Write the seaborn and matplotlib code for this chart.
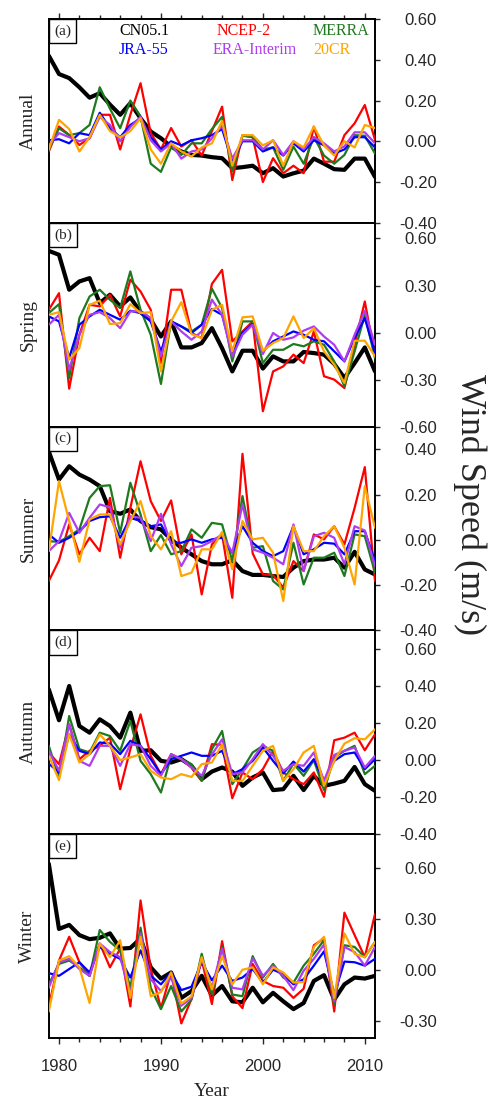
import matplotlib
matplotlib.use("Agg")
import matplotlib.pyplot as plt
import seaborn as sns
import numpy as np
from matplotlib.offsetbox import AnchoredText
from matplotlib.ticker import MultipleLocator

# ---------------- data ----------------
years = list(range(1979, 2012))
datasets = ["CN05.1", "NCEP-2", "MERRA", "JRA-55", "ERA-Interim", "20CR"]
seasons = ["Annual", "Spring", "Summer", "Autumn", "Winter"]
panel_tags = ["(a)", "(b)", "(c)", "(d)", "(e)"]

annual_cn05 = [0.42,0.33,0.31,0.265,0.214,0.236,0.18,0.13,0.187,0.113,0.048,0.015,-0.026,-0.05,-0.067,-0.07,-0.078,-0.083,-0.132,-0.127,-0.12,-0.157,-0.132,-0.173,-0.157,-0.144,-0.085,-0.11,-0.137,-0.14,-0.085,-0.085,-0.175]
annual_ncep = [-0.05,0.072,0.031,-0.018,0.015,0.13,0.13,-0.04,0.13,0.285,0.04,-0.04,0.065,-0.026,0.006,-0.07,0.05,0.17,-0.19,0.03,0.02,-0.2,-0.083,-0.157,-0.12,-0.157,0.072,-0.1,-0.1,0.03,0.088,0.178,0.007]
annual_merra = [-0.04,0.064,0.03,0.04,0.08,0.265,0.16,0.064,0.2,0.12,-0.11,-0.15,-0.03,-0.067,-0.01,-0.01,0.06,0.12,-0.148,0.027,0.02,-0.04,-0.03,-0.14,-0.026,-0.11,0.02,-0.07,-0.11,-0.067,0.03,0.027,-0.06]
annual_jra = [0.005,0.01,-0.01,0.04,0.03,0.14,0.064,0.02,0.08,0.113,0.02,-0.04,0.0,-0.02,0.005,0.015,0.03,0.06,-0.1,0.0,0.0,-0.05,-0.03,-0.07,-0.01,-0.05,0.005,-0.02,-0.06,-0.04,0.02,0.02,-0.03]
annual_era = [-0.02,0.04,0.02,0.0,0.015,0.12,0.08,0.0,0.07,0.12,0.005,-0.05,-0.01,-0.085,-0.05,-0.04,0.015,0.077,-0.085,0.005,0.005,-0.04,0.005,-0.067,0.0,-0.04,0.02,-0.01,-0.05,-0.025,0.044,0.044,-0.01]
annual_20cr = [-0.04,0.105,0.06,-0.05,0.02,0.13,0.05,0.02,0.05,0.113,-0.04,-0.11,-0.01,-0.05,-0.075,-0.03,-0.01,0.1,-0.12,0.03,0.03,-0.02,0.005,-0.12,0.0,-0.03,0.072,-0.02,-0.07,0.0,-0.03,0.08,0.065]

spring_cn05 = [0.521,0.496,0.273,0.326,0.347,0.188,0.241,0.167,0.224,0.13,0.082,-0.025,0.071,-0.095,-0.095,-0.067,0.028,-0.1,-0.248,-0.116,-0.116,-0.23,-0.152,-0.184,-0.184,-0.124,-0.131,-0.141,-0.2,-0.29,-0.195,-0.095,-0.248]
spring_ncep = [0.145,0.251,-0.358,-0.014,0.177,0.167,0.241,0.103,0.337,0.262,0.145,-0.194,0.273,0.273,-0.003,-0.035,0.31,0.4,-0.056,0.007,0.071,-0.502,-0.248,-0.216,-0.141,-0.195,0.007,-0.279,-0.3,-0.354,-0.078,0.198,-0.152]
spring_merra = [0.124,0.181,-0.29,0.092,0.23,0.273,0.209,0.156,0.39,0.145,-0.014,-0.328,0.071,0.039,0.007,0.05,0.28,0.156,-0.184,0.071,0.071,-0.195,-0.11,-0.11,-0.073,-0.088,-0.056,-0.078,-0.184,-0.343,-0.12,0.113,-0.163]
spring_jra = [0.103,0.071,-0.162,0.05,0.103,0.145,0.113,0.082,0.139,0.124,0.071,-0.12,0.071,0.039,-0.003,0.05,0.15,0.113,-0.131,-0.003,0.054,-0.12,-0.056,-0.025,0.007,-0.014,-0.046,-0.056,-0.12,-0.184,-0.035,0.092,-0.131]
spring_era = [0.05,0.113,-0.237,-0.014,0.113,0.13,0.092,0.028,0.135,0.135,0.092,-0.152,0.071,0.007,-0.046,0.007,0.21,0.113,-0.152,-0.014,0.05,-0.137,-0.003,-0.046,-0.031,0.012,0.039,-0.025,-0.078,-0.184,-0.014,0.139,-0.078]
spring_20cr = [0.113,0.13,-0.173,-0.099,0.177,0.203,0.054,0.06,0.181,0.124,0.13,-0.248,0.071,0.194,-0.01,-0.035,0.145,0.177,-0.12,0.097,0.103,-0.116,-0.067,-0.035,0.103,-0.035,0.028,-0.12,-0.205,-0.322,-0.052,-0.052,-0.152]

summer_cn05 = [0.39,0.266,0.325,0.288,0.266,0.237,0.127,0.115,0.134,0.083,0.056,0.046,0.002,-0.035,-0.064,-0.094,-0.108,-0.108,-0.09,-0.138,-0.155,-0.155,-0.16,-0.164,-0.123,-0.094,-0.087,-0.087,-0.079,-0.123,-0.053,-0.131,-0.153]
summer_ncep = [-0.182,-0.091,0.068,-0.064,0.009,-0.05,0.185,-0.079,0.141,0.347,0.171,0.083,0.174,-0.064,0.024,-0.241,-0.02,0.024,-0.256,0.38,-0.06,-0.153,-0.156,-0.21,-0.094,-0.138,0.024,0.002,0.06,-0.02,0.141,0.321,-0.182]
summer_merra = [-0.006,-0.009,0.016,0.046,0.185,0.237,0.241,0.031,0.252,0.112,-0.05,0.021,-0.064,-0.05,0.046,0.009,0.075,0.068,-0.094,0.193,-0.035,-0.028,-0.182,-0.219,-0.013,-0.197,-0.079,-0.079,-0.057,-0.16,0.024,0.016,-0.145]
summer_jra = [0.024,-0.013,0.009,0.038,0.083,0.1,0.104,0.009,0.097,0.083,0.06,0.068,-0.013,-0.013,0.002,-0.013,0.002,0.009,-0.057,0.06,-0.013,-0.05,-0.072,-0.05,0.06,-0.064,-0.042,-0.013,-0.017,-0.064,0.038,0.038,-0.094]
summer_era = [-0.05,-0.006,0.119,0.031,0.097,0.156,0.144,-0.035,0.104,0.097,-0.006,0.115,-0.02,-0.116,-0.035,-0.028,-0.006,0.024,-0.057,0.156,-0.042,-0.057,-0.079,-0.108,0.068,-0.138,0.016,0.031,0.009,-0.108,0.06,0.041,-0.116]
summer_20cr = [-0.05,0.259,0.083,-0.097,0.09,0.112,0.112,-0.02,0.083,0.171,0.016,-0.042,0.038,-0.16,-0.145,-0.042,-0.042,0.035,-0.13,0.083,0.002,0.009,-0.057,-0.27,0.06,-0.05,-0.05,0.016,0.06,-0.035,-0.197,0.237,0.053]

autumn_cn05 = [0.382,0.215,0.4,0.184,0.148,0.22,0.184,0.121,0.256,0.05,0.053,-0.004,-0.013,0.005,-0.031,-0.103,-0.062,-0.04,-0.062,-0.139,-0.094,-0.067,-0.162,-0.157,-0.085,-0.162,-0.085,-0.139,-0.127,-0.112,-0.037,-0.13,-0.166]
autumn_ncep = [0.041,-0.022,0.193,0.005,0.05,0.077,0.121,-0.157,0.059,0.247,0.023,-0.076,0.032,0.005,-0.04,-0.112,0.086,0.082,-0.206,-0.067,-0.103,-0.049,0.05,-0.067,-0.103,-0.13,-0.067,-0.198,0.107,0.121,0.148,0.053,0.139]
autumn_merra = [0.077,-0.094,0.238,0.059,0.041,0.148,0.13,0.05,0.211,-0.004,-0.076,-0.175,0.023,0.005,-0.022,-0.112,0.059,0.157,-0.13,-0.049,0.041,0.077,0.05,-0.112,-0.019,-0.085,0.0,-0.162,0.014,0.05,0.077,-0.076,-0.031]
autumn_jra = [-0.019,-0.067,0.139,0.05,0.032,0.095,0.089,0.032,0.104,0.077,0.005,-0.076,0.005,0.023,0.041,0.023,0.023,0.05,-0.076,-0.049,-0.004,0.068,-0.004,-0.072,-0.008,-0.062,0.005,-0.112,-0.004,0.032,0.041,-0.049,0.005]
autumn_era = [0.05,-0.058,0.193,-0.004,-0.031,0.077,0.077,-0.031,0.086,0.077,-0.031,-0.085,0.032,0.005,-0.04,-0.085,0.03,0.112,-0.076,-0.067,0.005,0.086,0.023,-0.058,-0.022,-0.031,0.041,-0.112,0.028,0.05,0.068,-0.04,0.023]
autumn_20cr = [0.023,-0.108,0.139,-0.013,0.032,0.139,0.077,0.0,0.014,0.032,-0.058,-0.094,-0.103,-0.076,-0.091,-0.022,-0.013,0.086,-0.112,-0.112,-0.031,0.05,0.077,-0.112,-0.049,0.041,0.077,-0.139,-0.004,0.089,0.118,0.112,0.166]

winter_cn05 = [0.626,0.242,0.266,0.206,0.182,0.19,0.216,0.126,0.13,0.186,0.016,-0.05,-0.014,-0.164,-0.124,-0.034,-0.15,-0.094,-0.184,-0.19,-0.104,-0.19,-0.134,-0.184,-0.23,-0.194,-0.064,-0.03,-0.174,-0.084,-0.044,-0.05,-0.034]
winter_ncep = [-0.214,0.056,0.196,0.046,-0.034,0.156,0.016,0.126,-0.214,0.41,0.006,-0.224,-0.014,-0.314,-0.17,0.06,-0.2,0.17,-0.154,-0.224,0.036,-0.064,-0.094,-0.104,-0.164,-0.11,0.146,0.186,-0.244,0.338,0.206,0.076,0.33]
winter_merra = [-0.084,0.036,0.056,0.016,-0.034,0.236,0.166,0.116,-0.104,0.25,-0.104,-0.23,-0.094,-0.244,-0.174,0.096,-0.144,0.136,-0.144,-0.154,0.082,-0.044,0.036,-0.044,-0.074,0.026,0.096,0.176,-0.204,0.146,0.136,0.076,0.166]
winter_jra = [-0.018,-0.034,0.006,0.046,-0.014,0.136,0.096,0.066,-0.044,0.116,-0.034,-0.084,-0.014,-0.118,-0.098,0.046,-0.06,0.026,-0.064,-0.044,0.006,-0.074,0.002,-0.024,-0.084,-0.054,0.026,0.11,-0.144,0.05,0.046,0.026,0.066]
winter_era = [-0.104,0.046,0.066,0.006,-0.034,0.156,0.106,0.076,-0.144,0.216,-0.054,-0.124,-0.044,-0.21,-0.164,0.066,-0.104,0.126,-0.104,-0.114,0.07,-0.034,0.026,-0.034,-0.118,-0.004,0.066,0.15,-0.184,0.136,0.106,0.026,0.136]
winter_20cr = [-0.244,0.056,0.082,0.016,-0.194,0.156,0.076,0.176,-0.164,0.196,-0.154,-0.13,-0.014,-0.198,-0.154,0.076,-0.114,0.082,-0.084,0.002,0.016,-0.084,0.016,-0.014,-0.074,-0.07,0.136,0.196,-0.164,0.216,0.096,0.076,0.166]

panels = [
    [annual_cn05, annual_ncep, annual_merra, annual_jra, annual_era, annual_20cr],
    [spring_cn05, spring_ncep, spring_merra, spring_jra, spring_era, spring_20cr],
    [summer_cn05, summer_ncep, summer_merra, summer_jra, summer_era, summer_20cr],
    [autumn_cn05, autumn_ncep, autumn_merra, autumn_jra, autumn_era, autumn_20cr],
    [winter_cn05, winter_ncep, winter_merra, winter_jra, winter_era, winter_20cr],
]

# ---------------- style ----------------
colors = ["black", "#ff0000", "#1e7a1e", "#0000ff", "#b03cf0", "#ffa500"]
widths = [3.0, 1.6, 1.6, 1.6, 1.6, 1.6]
ylims = [(-0.4, 0.6), (-0.6, 0.7), (-0.4, 0.5), (-0.4, 0.7), (-0.4, 0.8)]
ytick_sets = [
    [-0.4, -0.2, 0.0, 0.2, 0.4, 0.6],
    [-0.6, -0.3, 0.0, 0.3, 0.6],
    [-0.4, -0.2, 0.0, 0.2, 0.4],
    [-0.4, -0.2, 0.0, 0.2, 0.4, 0.6],
    [-0.3, 0.0, 0.3, 0.6],
]

sns.set_style("ticks")
SERIF = ["Liberation Serif", "DejaVu Serif"]
SANS = ["Liberation Sans", "DejaVu Sans"]
plt.rcParams["font.family"] = SANS

W, H = 491, 1102
fig = plt.figure(figsize=(W / 100, H / 100), dpi=100)

left_px, right_px = 48.8, 375.0
top_px, bot_px = 19.0, 1038.0
ph = (bot_px - top_px) / 5

for i in range(5):
    y_top = top_px + i * ph
    ax = fig.add_axes([left_px / W, 1 - (y_top + ph) / H,
                       (right_px - left_px) / W, ph / H])
    for vals, c, lw in zip(panels[i], colors, widths):
        sns.lineplot(x=years, y=vals, ax=ax, color=c, linewidth=lw,
                     legend=False, zorder=3)
    ax.set_xlim(1979, 2011)
    ax.set_ylim(*ylims[i])
    ax.set_xlabel("")
    ax.set_ylabel("")
    for sp in ax.spines.values():
        sp.set_visible(True)
        sp.set_linewidth(1.4)
        sp.set_color("black")

    # y axis on the right
    ax.yaxis.set_ticks_position("right")
    ax.set_yticks(ytick_sets[i], [f"{t:.2f}" for t in ytick_sets[i]], ha="right")
    ax.tick_params(axis="y", which="major", direction="out", length=3.6,
                   width=1.0, pad=41, labelsize=12, right=True, left=False,
                   labelright=True, labelleft=False)

    # x axis
    ax.xaxis.set_major_locator(MultipleLocator(10))
    ax.xaxis.set_minor_locator(MultipleLocator(2))
    if i == 0:
        ax.tick_params(axis="x", which="both", direction="out", top=True,
                       bottom=False, labeltop=False, labelbottom=False)
        ax.tick_params(axis="x", which="major", length=4.3, width=1.0)
        ax.tick_params(axis="x", which="minor", length=2.9, width=1.0)
    elif i == 4:
        ax.tick_params(axis="x", which="both", direction="out", top=False,
                       bottom=True, labelbottom=True, labeltop=False)
        ax.tick_params(axis="x", which="major", length=4.3, width=1.0,
                       pad=11, labelsize=12)
        ax.tick_params(axis="x", which="minor", length=2.9, width=1.0)
    else:
        ax.tick_params(axis="x", which="both", top=False, bottom=False,
                       labelbottom=False, labeltop=False)

    # panel tag
    at = AnchoredText(panel_tags[i], loc="upper left", pad=0.35, borderpad=0,
                      prop=dict(family=SERIF, size=11))
    at.patch.set_linewidth(1.0)
    at.patch.set_edgecolor("black")
    at.patch.set_boxstyle("square,pad=0")
    ax.add_artist(at)

    # season label
    ax.text(-0.064, 0.5, seasons[i], rotation=90, transform=ax.transAxes,
            ha="center", va="center", family=SERIF, fontsize=14)

    if i == 0:
        lx = [0.215, 0.515, 0.81, 0.215, 0.503, 0.81]
        ly = [0.943, 0.943, 0.943, 0.848, 0.848, 0.848]
        for k in range(6):
            ax.text(lx[k], ly[k], datasets[k], color=colors[k],
                    transform=ax.transAxes, ha="left", va="center",
                    family=SERIF, fontsize=11.5)

fig.text(212 / W, 1 - 1092 / H, "Year", ha="center", va="center",
         family=SERIF, fontsize=14)
fig.text(470 / W, 1 - 505 / H, "Wind Speed (m/s)", rotation=270,
         ha="center", va="center", family=SERIF, fontsize=26)

fig.savefig("out.png", dpi=100)
